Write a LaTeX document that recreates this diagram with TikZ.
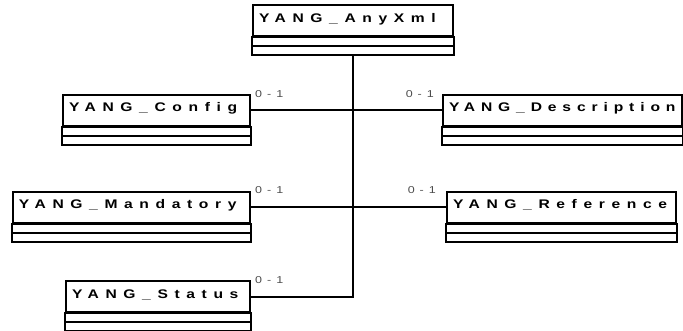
\documentclass[tikz,border=0pt]{standalone}
\usepackage{fontspec}
\usepackage{tikz}
\usepackage{xcolor}
\newfontfamily\classfont[FakeStretch=1.25, LetterSpace=53]{Liberation Sans Bold}
\newfontfamily\multfont[FakeStretch=1.25, LetterSpace=15]{Liberation Sans}
\definecolor{multgray}{gray}{0.3}

\begin{document}
\begin{tikzpicture}[x=1pt, y=-1pt,
  classtitle/.style={draw, line width=2pt, anchor=north west, align=left,
    inner xsep=6pt, inner ysep=0pt, text height=17pt, text depth=14pt,
    font=\classfont\fontsize{12.5}{15}\selectfont},
  compart/.style={draw, line width=2pt},
  mult/.style={inner sep=0pt, text=multgray, font=\multfont\fontsize{10}{10}\selectfont},
  link/.style={line width=2pt}]
  \useasboundingbox (0,0) rectangle (683,330);

  % Class titles
  \node[classtitle, text width=188pt] (anyxml) at (252,4) {YANG\_AnyXml};
  \node[classtitle, text width=175pt] (config) at (62,93.5) {YANG\_Config};
  \node[classtitle, text width=227pt] (descr) at (442,93.5)
    {\addfontfeature{LetterSpace=47}YANG\_Description};
  \node[classtitle, text width=225pt] (mandatory) at (12,190.5) {YANG\_Mandatory};
  \node[classtitle, text width=217pt] (reference) at (446,190.5) {YANG\_Reference};
  \node[classtitle, text width=172pt] (status) at (65,280) {YANG\_Status};

  % Empty attribute and operation compartments
  \foreach \c in {anyxml, config, descr, mandatory, reference, status} {
    \draw[compart] (\c.south west) rectangle ([yshift=-9pt]\c.south east);
    \draw[compart] ([yshift=-9pt]\c.south west) rectangle ([yshift=-18pt]\c.south east);
  }

  % Trunk below the parent class
  \coordinate (trunk) at ([yshift=-18pt]anyxml.south);

  % Connectors
  \draw[link] (config.east) -- (descr.west);
  \draw[link] (mandatory.east) -- (reference.west);
  \draw[link] (status.east) -| (trunk);

  % Multiplicities
  \node[mult, anchor=base west] (configm) at ([xshift=4pt,yshift=-4pt]config.north east) {0 - 1};
  \node[mult, anchor=base east] (descrm) at ([xshift=-8pt,yshift=-4pt]descr.north west) {0 - 1};
  \node[mult, anchor=base west] (mandatorym) at ([xshift=4pt,yshift=-3pt]mandatory.north east) {0 - 1};
  \node[mult, anchor=base east] (referencem) at ([xshift=-10pt,yshift=-3pt]reference.north west) {0 - 1};
  \node[mult, anchor=base west] (statusm) at ([xshift=4pt,yshift=-3pt]status.north east) {0 - 1};
\end{tikzpicture}
\end{document}
